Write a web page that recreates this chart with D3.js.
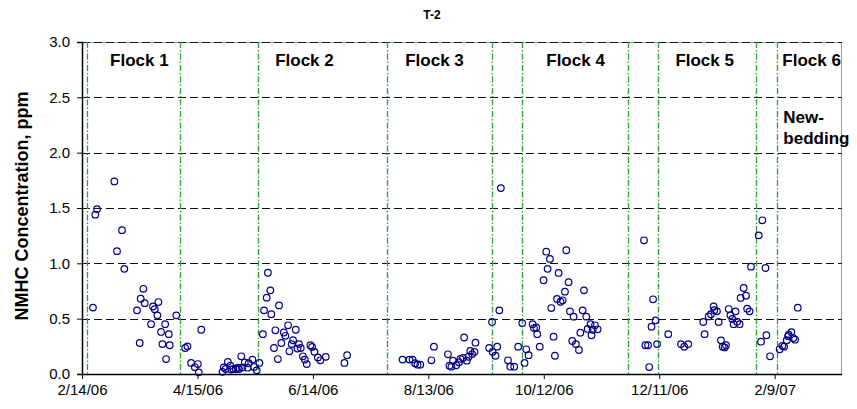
<!DOCTYPE html>
<html>
<head>
<meta charset="utf-8">
<script src="https://cdn.jsdelivr.net/npm/d3@7"></script>
<style>
  html, body { margin: 0; padding: 0; background: #fff; }
  svg { display: block; font-family: "Liberation Sans", Arial, sans-serif; }
</style>
</head>
<body>
<svg id="chart" width="857" height="409"></svg>
<script>
// Sampling start date; sample times are kept as days after this date.
const startDate = "2006-02-14";

// Days after 2/14/06 for each NMHC sample
const sampleDay = [
  // Flock 1
  5.7, 6.9, 7.8, 16.8, 18.2, 20.8, 22.0, 28.6, 30.0, 30.5, 31.9, 32.6, 35.9, 36.9, 37.8, 39.2,
  39.7, 41.1, 41.8, 43.2, 43.7, 45.1, 45.6, 49.0, 53.6, 54.8, 56.7, 58.6, 60.2, 60.7, 62.0,
  // between flocks 1 and 2
  73.0, 73.7, 74.7, 75.8, 77.1, 77.6, 78.7, 79.9, 81.0, 81.6, 82.8, 83.4, 84.6, 86.0, 86.6,
  88.6, 89.4, 90.8, 92.2,
  // Flock 2
  94.0, 94.6, 96.0, 96.6, 97.9, 98.4, 99.8, 100.5, 101.8, 102.4, 103.6, 104.9, 105.7, 107.1,
  107.8, 109.0, 109.7, 111.1, 112.0, 112.8, 113.7, 114.8, 115.8, 116.8, 118.7, 119.6, 120.8,
  122.6, 123.9, 126.7, 136.4, 137.8,
  // Flock 3
  166.6, 170.2, 171.8, 173.2, 174.4, 175.8, 181.6, 182.9, 190.2, 191.0, 192.0, 192.8, 194.5,
  195.9, 196.7, 198.0, 198.6, 200.0, 200.9, 201.8, 202.8, 204.0, 204.5, 211.6, 213.1, 213.4,
  214.9, 215.8, 216.9, 217.7, 221.4, 222.6, 224.6, 226.7,
  // Flock 4
  228.8, 230.0, 230.9, 232.1, 234.2, 234.9, 236.1, 236.6, 237.9, 239.9, 241.3, 242.0, 243.2,
  243.9, 245.1, 245.8, 246.9, 247.7, 248.7, 249.8, 251.0, 251.7, 252.9, 253.6, 254.8, 255.5,
  256.7, 258.3, 259.0, 260.2, 260.9, 262.1, 262.8, 264.3, 264.8, 265.4, 266.6, 268.0,
  // Flock 5
  292.1, 292.8, 294.2, 294.8, 296.0, 296.8, 298.1, 298.9, 304.7, 311.3, 313.0, 315.1, 322.9,
  323.6, 325.7, 326.9, 328.3, 328.6, 330.0, 330.9, 332.1, 333.0, 334.0, 334.7, 336.1, 337.0,
  338.0, 338.7, 339.7, 340.5, 341.8, 342.3, 343.9, 345.1, 345.7, 347.0, 347.7, 351.7, 352.9,
  353.6, 355.2, 355.7,
  // Flock 6
  357.6, 362.6, 364.0, 364.9, 366.3, 367.0, 367.3, 368.7, 369.7, 370.6, 372.0
];

// NMHC concentration (ppm) for each sample above
const nmhc = [
  0.60, 1.44, 1.49, 1.74, 1.11, 1.30, 0.95, 0.575, 0.28, 0.68, 0.77, 0.64, 0.45, 0.61, 0.585, 0.53,
  0.65, 0.38, 0.27, 0.45, 0.135, 0.36, 0.26, 0.53, 0.235, 0.25, 0.10, 0.063, 0.09, 0.015, 0.40,
  0.02, 0.06, 0.045, 0.11, 0.075, 0.04, 0.045, 0.045, 0.057, 0.045, 0.16, 0.06, 0.105, 0.057, 0.097,
  0.13, 0.063, 0.033, 0.10,
  0.36, 0.575, 0.69, 0.915, 0.756, 0.54, 0.235, 0.395, 0.135, 0.62, 0.28, 0.375, 0.345, 0.44,
  0.205, 0.27, 0.305, 0.40, 0.23, 0.27, 0.235, 0.16, 0.13, 0.09, 0.26, 0.245, 0.20,
  0.15, 0.124, 0.155, 0.10, 0.17,
  0.13, 0.13, 0.13, 0.097, 0.084, 0.084, 0.124, 0.247, 0.178, 0.075, 0.066, 0.12, 0.079,
  0.106, 0.136, 0.145, 0.33, 0.12, 0.156, 0.208, 0.18, 0.20, 0.283, 0.235, 0.47, 0.20,
  0.165, 0.247, 0.575, 1.68, 0.124, 0.066, 0.066, 0.247,
  0.46, 0.10, 0.223, 0.17, 0.45, 0.415, 0.42, 0.36, 0.247, 0.847, 1.105, 0.95, 1.04,
  0.596, 0.337, 0.165, 0.678, 0.913, 0.653, 0.666, 0.744, 1.118, 0.83, 0.566, 0.298, 0.518,
  0.27, 0.217, 0.373, 0.575, 0.756, 0.518, 0.407, 0.45, 0.35, 0.40, 0.44, 0.404,
  1.208, 0.26, 0.26, 0.063, 0.428, 0.675, 0.485, 0.27, 0.36, 0.27, 0.247, 0.27, 0.47,
  0.36, 0.52, 0.54, 0.61, 0.577, 0.566, 0.47, 0.304, 0.247, 0.24, 0.26, 0.587, 0.53,
  0.497, 0.45, 0.566, 0.473, 0.45, 0.687, 0.777, 0.708, 0.59, 0.566, 0.97, 1.253, 0.292,
  1.389, 0.958, 0.35,
  0.16, 0.223, 0.255, 0.247, 0.306, 0.342, 0.355, 0.378, 0.325, 0.31, 0.599
];

// Flock placement / removal dates (days after 2/14/06), drawn as vertical markers
const eventDays = [2.6, 51.0, 91.5, 158.6, 213.2, 228.8, 283.9, 299.5, 350.5, 361.4];

// Flock annotations and the day each label starts at
const flockLabels = ["Flock 1", "Flock 2", "Flock 3", "Flock 4", "Flock 5", "Flock 6"];
const flockLabelDays = [14.6, 100.4, 168.0, 241.3, 308.4, 364.0];
const beddingNote = ["New-", "bedding"];

// Axis settings
const axisSpanDays = 395;
const tickStepDays = 60;
const yTicks = [0, 0.5, 1.0, 1.5, 2.0, 2.5, 3.0];

const chartTitle = "T-2";
const yTitle = "NMHC Concentration, ppm";

// ---- drawing ----
const svg = d3.select("#chart");
const W = 857, H = 409;
const m = { left: 82, right: 15, top: 42, bottom: 35 };
const innerW = W - m.left - m.right;
const innerH = H - m.top - m.bottom;

const t0 = new Date(startDate + "T00:00:00Z");
const dayToDate = d => new Date(t0.getTime() + d * 864e5);

const x = d3.scaleUtc().domain([t0, dayToDate(axisSpanDays)]).range([m.left, m.left + innerW]);
const y = d3.scaleLinear().domain([0, 3]).range([m.top + innerH, m.top]);

// plot-area frame
svg.append("rect")
  .attr("x", m.left + 0.5).attr("y", m.top + 0.5)
  .attr("width", innerW - 1).attr("height", innerH)
  .attr("fill", "none").attr("stroke", "#9a9a9a").attr("stroke-width", 1);

// horizontal dashed gridlines
svg.append("g").selectAll("line")
  .data(yTicks.filter(v => v > 0))
  .join("line")
  .attr("x1", m.left).attr("x2", m.left + innerW)
  .attr("y1", d => Math.round(y(d)) + 0.5).attr("y2", d => Math.round(y(d)) + 0.5)
  .attr("stroke", "#111").attr("stroke-width", 1)
  .attr("stroke-dasharray", "8,4");

// vertical event markers (dash-dot green)
svg.append("g").selectAll("line")
  .data(eventDays)
  .join("line")
  .attr("x1", d => Math.round(x(dayToDate(d))) + 0.5)
  .attr("x2", d => Math.round(x(dayToDate(d))) + 0.5)
  .attr("y1", m.top).attr("y2", m.top + innerH)
  .attr("stroke", "#2f9e2f").attr("stroke-width", 1.3)
  .attr("stroke-dasharray", "6,2,1.5,2");

// axes
const xTickValues = d3.range(0, axisSpanDays, tickStepDays).map(dayToDate);
const xAxis = d3.axisBottom(x)
  .tickValues(xTickValues)
  .tickFormat(d3.utcFormat("%-m/%-d/%y"))
  .tickSize(5).tickPadding(5);
const yAxis = d3.axisLeft(y)
  .tickValues(yTicks)
  .tickFormat(d3.format(".1f"))
  .tickSize(5).tickPadding(7);

const gx = svg.append("g").attr("transform", `translate(0,${m.top + innerH})`).call(xAxis);
const gy = svg.append("g").attr("transform", `translate(${m.left},0)`).call(yAxis);
[gx, gy].forEach(g => {
  g.select(".domain").attr("stroke", "#000").attr("stroke-width", 1.5);
  g.selectAll(".tick line").attr("stroke", "#000");
  g.selectAll(".tick text")
    .attr("fill", "#000")
    .style("font-family", "'Liberation Sans', Arial, sans-serif")
    .style("font-size", "15px");
});
gx.select(".domain").attr("d", `M${m.left},0.5H${m.left + innerW}`);

// sample markers
svg.append("g").selectAll("circle")
  .data(d3.zip(sampleDay, nmhc))
  .join("circle")
  .attr("cx", d => x(dayToDate(d[0])))
  .attr("cy", d => y(d[1]))
  .attr("r", 3.3)
  .attr("fill", "none")
  .attr("stroke", "#000088")
  .attr("stroke-width", 1.2);

// flock annotations
svg.append("g").selectAll("text")
  .data(d3.zip(flockLabels, flockLabelDays))
  .join("text")
  .attr("x", d => x(dayToDate(d[1])))
  .attr("y", 66)
  .attr("font-size", 17).attr("font-weight", "bold")
  .text(d => d[0]);

svg.append("g").selectAll("text")
  .data(beddingNote)
  .join("text")
  .attr("x", x(dayToDate(flockLabelDays[5])) + 1)
  .attr("y", (d, i) => 123 + i * 21)
  .attr("font-size", 17).attr("font-weight", "bold")
  .text(d => d);

// titles
svg.append("text")
  .attr("x", 432).attr("y", 19)
  .attr("text-anchor", "middle")
  .attr("font-size", 12).attr("font-weight", "bold")
  .text(chartTitle);

svg.append("text")
  .attr("transform", `translate(28,${m.top + innerH / 2 - 2}) rotate(-90)`)
  .attr("text-anchor", "middle")
  .attr("font-size", 18).attr("font-weight", "bold")
  .text(yTitle);
</script>
</body>
</html>
